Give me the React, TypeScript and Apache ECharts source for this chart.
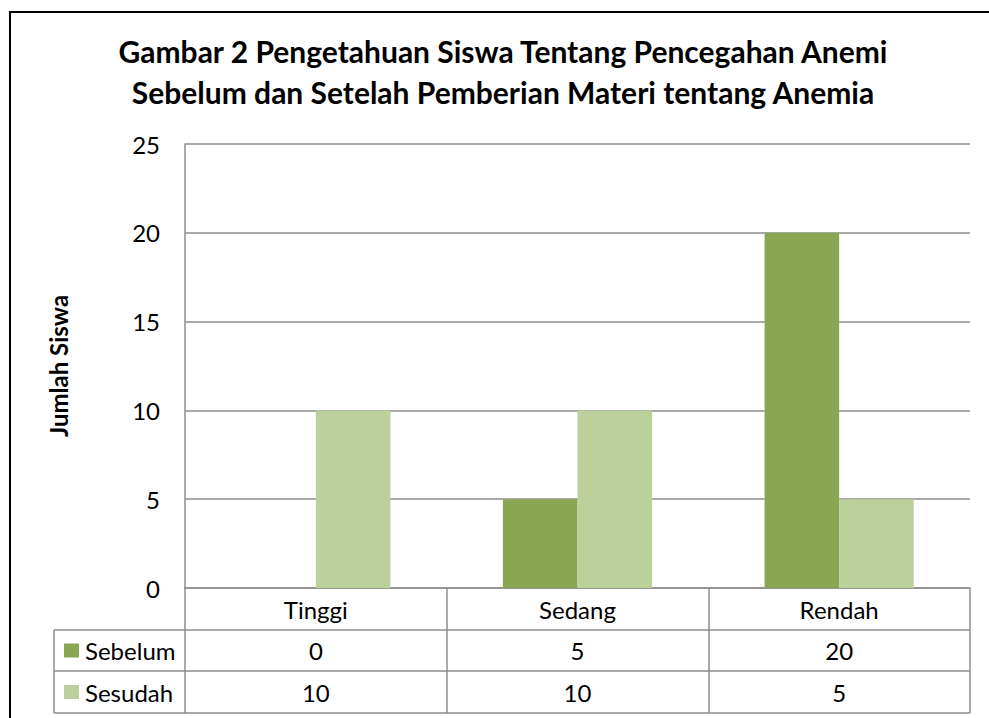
import React, { useEffect, useRef } from "react";
import * as echarts from "echarts";

const titleLines = [
  "Gambar 2 Pengetahuan Siswa Tentang Pencegahan Anemi",
  "Sebelum dan Setelah Pemberian Materi tentang Anemia",
];
const categories = ["Tinggi", "Sedang", "Rendah"];
const seriesNames = ["Sebelum", "Sesudah"];
const sebelum = [0, 5, 20];
const sesudah = [10, 10, 5];
const seriesColors = ["#8AA652", "#BBD09A"];
const yAxisName = "Jumlah Siswa";
const yMin = 0;
const yMax = 25;
const yInterval = 5;

const FONT = "Lato, 'Open Sans', sans-serif";
const GRID = { left: 185, top: 144, width: 785, height: 444 };
const ROW_LINES = [630, 671, 713];
const TABLE_LEFT = 54;
const LINE_COLOR = "#8e8e8e";
const FS = 24;

export default function App() {
  const ref = useRef<HTMLDivElement>(null);
  useEffect(() => {
    if (!ref.current) return;
    const chart = echarts.init(ref.current, null, { renderer: "svg" });
    const values = [sebelum, sesudah];
    chart.setOption({
      animation: false,
      backgroundColor: "#ffffff",
      title: {
        text: titleLines.join("\n"),
        left: 498,
        top: 25,
        textAlign: "center",
        textStyle: {
          fontFamily: FONT,
          fontWeight: "bold",
          fontSize: 30,
          lineHeight: 41,
          color: "#000",
        },
      },
      grid: { ...GRID, containLabel: false },
      xAxis: {
        type: "category",
        data: categories,
        axisLine: { show: true, lineStyle: { color: LINE_COLOR, width: 1.5 } },
        axisTick: {
          show: true,
          alignWithLabel: false,
          length: ROW_LINES[2] - (GRID.top + GRID.height),
          lineStyle: { color: LINE_COLOR, width: 1.5 },
        },
        axisLabel: {
          margin: 21,
          verticalAlign: "middle",
          fontFamily: FONT,
          fontSize: FS,
          color: "#000",
        },
      },
      yAxis: {
        type: "value",
        min: yMin,
        max: yMax,
        interval: yInterval,
        name: yAxisName,
        nameLocation: "middle",
        nameGap: 115,
        nameRotate: 90,
        nameTextStyle: {
          fontFamily: FONT,
          fontWeight: "bold",
          fontSize: 24,
          color: "#000",
        },
        axisLine: { show: true, lineStyle: { color: LINE_COLOR, width: 1.5 } },
        axisTick: { show: false },
        axisLabel: {
          margin: 25,
          fontFamily: FONT,
          fontSize: FS,
          color: "#000",
        },
        splitLine: { show: true, lineStyle: { color: LINE_COLOR, width: 1.5 } },
      },
      series: seriesNames.map((name, i) => ({
        name,
        type: "bar",
        data: values[i],
        barGap: "0%",
        barCategoryGap: "43%",
        itemStyle: { color: seriesColors[i] },
      })),
    });

    const gridRight = GRID.left + GRID.width;
    const graphics: any[] = [
      {
        type: "rect",
        shape: { x: 10, y: 12, width: 1100, height: 1100 },
        style: { fill: "none", stroke: "#000", lineWidth: 2 },
        silent: true,
      },
    ];
    ROW_LINES.forEach((y) => {
      graphics.push({
        type: "line",
        shape: { x1: TABLE_LEFT, y1: y, x2: gridRight, y2: y },
        style: { stroke: LINE_COLOR, lineWidth: 1.5 },
      });
    });
    graphics.push({
      type: "line",
      shape: { x1: TABLE_LEFT, y1: ROW_LINES[0], x2: TABLE_LEFT, y2: ROW_LINES[2] },
      style: { stroke: LINE_COLOR, lineWidth: 1.5 },
    });
    seriesNames.forEach((name, r) => {
      const yc = (ROW_LINES[r] + ROW_LINES[r + 1]) / 2;
      graphics.push({
        type: "rect",
        shape: { x: 64, y: yc - 7, width: 15, height: 14 },
        style: { fill: seriesColors[r] },
      });
      graphics.push({
        type: "text",
        x: 85,
        y: yc,
        style: {
          text: name,
          fontFamily: FONT,
          fontSize: FS,
          fill: "#000",
          verticalAlign: "middle",
          align: "left",
        },
      });
      values[r].forEach((v, c) => {
        const xc = chart.convertToPixel({ xAxisIndex: 0 }, categories[c]) as number;
        graphics.push({
          type: "text",
          x: xc,
          y: yc,
          style: {
            text: String(v),
            fontFamily: FONT,
            fontSize: FS,
            fill: "#000",
            verticalAlign: "middle",
            align: "center",
          },
        });
      });
    });
    chart.setOption({ graphic: graphics });
    return () => chart.dispose();
  }, []);
  return (
    <div
      ref={ref}
      style={{ position: "fixed", left: 0, top: 0, width: 989, height: 718 }}
    />
  );
}
